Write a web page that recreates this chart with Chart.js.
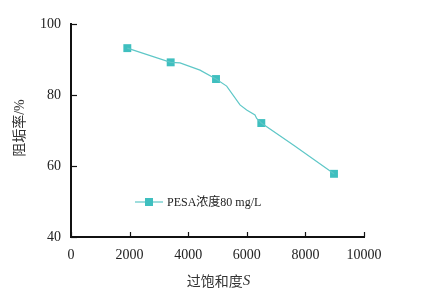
<!DOCTYPE html>
<html><head><meta charset="utf-8">
<script src="https://cdn.jsdelivr.net/npm/chart.js@4/dist/chart.umd.min.js"></script>
<style>html,body{margin:0;padding:0;background:#fff}#wrap{width:421px;height:295px;position:relative}</style>
</head><body><div id="wrap"><canvas id="c" width="421" height="295"></canvas></div>
<script>
// data
const supersat = [1922, 3402, 4949, 6495, 8976];
const inhibition = [93.2, 89.2, 84.5, 72.1, 57.8];
// traced curve through the markers
const curveX = [1922, 3402, 3720, 4403, 4949, 5313, 5768, 5995, 6280, 6337, 6495, 7588, 8976];
const curveY = [93.2, 89.2, 89.05, 87.0, 84.5, 82.5, 77.2, 75.8, 74.4, 73.4, 72.1, 65.9, 57.8];
const xTicks = [0, 2000, 4000, 6000, 8000, 10000];
const yTicks = [40, 60, 80, 100];
const seriesName = 'PESA浓度80 mg/L';
const xTitle = '过饱和度';
const xTitleVar = 'S';
const yTitle = '阻垢率/%';

const teal = '#3fbfbf';
const lineCol = '#5ec7c7';
const serif = '"Liberation Serif", "Noto Sans CJK SC", serif';

const decor = {
  id: 'decor',
  afterDraw(chart) {
    const ctx = chart.ctx, xs = chart.scales.x, ys = chart.scales.y, a = chart.chartArea;
    ctx.save();
    ctx.strokeStyle = '#111'; ctx.lineWidth = 1.2;
    // inward tick marks
    xTicks.forEach(v => { const px = Math.round(xs.getPixelForValue(v)) + 0.5;
      ctx.beginPath(); ctx.moveTo(px, a.bottom); ctx.lineTo(px, a.bottom - 5); ctx.stroke(); });
    yTicks.forEach(v => { const py = Math.round(ys.getPixelForValue(v)) + 0.5;
      ctx.beginPath(); ctx.moveTo(a.left, py); ctx.lineTo(a.left + 6, py); ctx.stroke(); });
    // legend
    const ly = 202, lx = 135;
    ctx.strokeStyle = lineCol; ctx.lineWidth = 1.2;
    ctx.beginPath(); ctx.moveTo(lx, ly); ctx.lineTo(lx + 28, ly); ctx.stroke();
    ctx.fillStyle = teal; ctx.fillRect(lx + 14 - 4, ly - 4, 8, 8);
    ctx.fillStyle = '#222'; ctx.font = '12px ' + serif; ctx.textBaseline = 'middle'; ctx.textAlign = 'left';
    ctx.fillText(seriesName, lx + 32, ly + 1);
    // x title
    ctx.font = '14px "Noto Sans CJK SC", sans-serif';
    const w1 = ctx.measureText(xTitle).width;
    ctx.font = 'italic 15px "Liberation Serif", serif';
    const w2 = ctx.measureText(xTitleVar).width;
    const cx = (a.left + a.right) / 2 + 1;
    let sx = cx - (w1 + w2) / 2;
    ctx.font = '14px "Noto Sans CJK SC", sans-serif'; ctx.fillStyle = '#333';
    ctx.fillText(xTitle, sx, 281);
    ctx.font = 'italic 15px "Liberation Serif", serif';
    ctx.fillText(xTitleVar, sx + w1, 281);
    // y title
    ctx.translate(20, 128); ctx.rotate(-Math.PI / 2);
    ctx.textAlign = 'center'; ctx.font = '14px ' + serif;
    ctx.fillText(yTitle, 0, 0);
    ctx.restore();
  }
};

new Chart(document.getElementById('c'), {
  type: 'scatter',
  data: { datasets: [
    { label: 'curve', data: curveX.map((x, i) => ({x, y: curveY[i]})), showLine: true,
      borderColor: lineCol, borderWidth: 1.2, pointRadius: 0, tension: 0, fill: false },
    { label: seriesName, data: supersat.map((x, i) => ({x, y: inhibition[i]})), showLine: false,
      pointStyle: 'rect', pointRadius: 5.6, pointHoverRadius: 5.6, backgroundColor: teal, borderColor: teal, borderWidth: 0 }
  ]},
  options: {
    responsive: false, animation: false, devicePixelRatio: 1,
    layout: { padding: { left: 0, top: 24, right: 57, bottom: 0 } },
    plugins: { legend: { display: false }, tooltip: { enabled: false } },
    scales: {
      x: { type: 'linear', min: 0, max: 10000,
        afterFit(s) { s.height = 58; },
        afterBuildTicks(s) { s.ticks = xTicks.map(v => ({value: v})); },
        grid: { display: true, drawOnChartArea: false, drawTicks: false },
        border: { display: true, color: '#111', width: 2 },
        ticks: { padding: 10, color: '#222', font: { family: serif, size: 14 }, callback: v => String(v) } },
      y: { type: 'linear', min: 40, max: 100,
        afterFit(s) { s.width = 71; },
        afterBuildTicks(s) { s.ticks = yTicks.map(v => ({value: v})); },
        grid: { display: true, drawOnChartArea: false, drawTicks: false },
        border: { display: true, color: '#111', width: 2 },
        ticks: { padding: 10, color: '#222', font: { family: serif, size: 14 }, callback: v => String(v) } }
    }
  },
  plugins: [decor]
});
</script></body></html>
